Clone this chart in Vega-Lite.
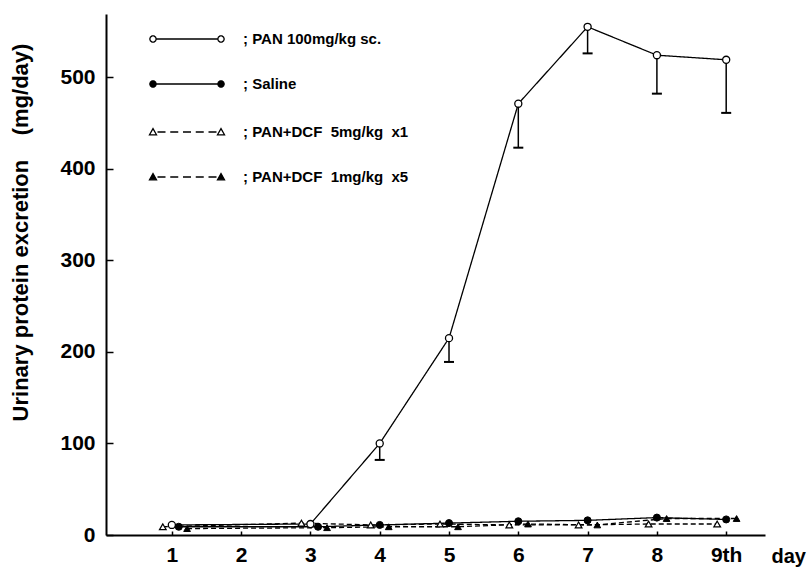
{
  "$schema": "https://vega.github.io/schema/vega-lite/v6.json",
  "width": 659,
  "height": 521,
  "autosize": "none",
  "padding": {"left": 106, "top": 14, "right": 43, "bottom": 32},
  "background": "white",
  "config": {
    "view": {"stroke": null},
    "font": "Liberation Sans"
  },
  "data": {
    "values": [
      {"series": "PAN 100mg/kg sc.", "day": 1, "value": 11},
      {"series": "PAN 100mg/kg sc.", "day": 3, "value": 12},
      {"series": "PAN 100mg/kg sc.", "day": 4, "value": 100, "low": 82},
      {"series": "PAN 100mg/kg sc.", "day": 5, "value": 215, "low": 189},
      {"series": "PAN 100mg/kg sc.", "day": 6, "value": 471, "low": 423},
      {"series": "PAN 100mg/kg sc.", "day": 7, "value": 555, "low": 526},
      {"series": "PAN 100mg/kg sc.", "day": 8, "value": 524, "low": 482},
      {"series": "PAN 100mg/kg sc.", "day": 9, "value": 519, "low": 461},
      {"series": "Saline", "day": 1.1, "value": 9},
      {"series": "Saline", "day": 3.11, "value": 9},
      {"series": "Saline", "day": 4, "value": 11},
      {"series": "Saline", "day": 5, "value": 13},
      {"series": "Saline", "day": 6, "value": 15},
      {"series": "Saline", "day": 7, "value": 16},
      {"series": "Saline", "day": 8, "value": 19},
      {"series": "Saline", "day": 9, "value": 17},
      {"series": "PAN+DCF\u00a0 5mg/kg\u00a0 x1", "day": 0.87, "value": 9},
      {"series": "PAN+DCF\u00a0 5mg/kg\u00a0 x1", "day": 2.87, "value": 13},
      {"series": "PAN+DCF\u00a0 5mg/kg\u00a0 x1", "day": 3.87, "value": 11},
      {"series": "PAN+DCF\u00a0 5mg/kg\u00a0 x1", "day": 4.87, "value": 12},
      {"series": "PAN+DCF\u00a0 5mg/kg\u00a0 x1", "day": 5.87, "value": 11},
      {"series": "PAN+DCF\u00a0 5mg/kg\u00a0 x1", "day": 6.87, "value": 11},
      {"series": "PAN+DCF\u00a0 5mg/kg\u00a0 x1", "day": 7.88, "value": 12},
      {"series": "PAN+DCF\u00a0 5mg/kg\u00a0 x1", "day": 8.87, "value": 12},
      {"series": "PAN+DCF\u00a0 1mg/kg\u00a0 x5", "day": 1.22, "value": 7},
      {"series": "PAN+DCF\u00a0 1mg/kg\u00a0 x5", "day": 3.24, "value": 8},
      {"series": "PAN+DCF\u00a0 1mg/kg\u00a0 x5", "day": 4.13, "value": 9},
      {"series": "PAN+DCF\u00a0 1mg/kg\u00a0 x5", "day": 5.13, "value": 9},
      {"series": "PAN+DCF\u00a0 1mg/kg\u00a0 x5", "day": 6.14, "value": 12},
      {"series": "PAN+DCF\u00a0 1mg/kg\u00a0 x5", "day": 7.14, "value": 11},
      {"series": "PAN+DCF\u00a0 1mg/kg\u00a0 x5", "day": 8.14, "value": 18},
      {"series": "PAN+DCF\u00a0 1mg/kg\u00a0 x5", "day": 9.15, "value": 18}
    ]
  },
  "encoding": {
    "x": {
      "field": "day", "type": "quantitative",
      "scale": {"domain": [0.05, 9.56], "nice": false, "zero": false},
      "axis": {
        "values": [1, 2, 3, 4, 5, 6, 7, 8, 9],
        "labelExpr": "datum.value == 9 ? '\u2007\u20079th' : datum.label",
        "title": "day",
        "titleX": 665, "titleY": 27,
        "titleAlign": "left", "titleBaseline": "alphabetic",
        "titleFontSize": 20, "titleFontWeight": "bold", "titleColor": "black",
        "labelFontSize": 21, "labelFontWeight": "bold", "labelColor": "black",
        "labelPadding": 13, "labelFlush": false, "labelOverlap": false,
        "domainColor": "black", "domainWidth": 2,
        "tickColor": "black", "tickWidth": 1.5, "tickSize": -4,
        "grid": false
      }
    },
    "y": {
      "field": "value", "type": "quantitative",
      "scale": {"domain": [0, 569], "nice": false},
      "axis": {
        "values": [0, 100, 200, 300, 400, 500],
        "title": "Urinary protein excretion\u00a0\u00a0\u00a0\u00a0(mg/day)",
        "titleX": -86, "titleY": 218, "titleAngle": -90,
        "titleAlign": "center", "titleBaseline": "middle",
        "titleFontSize": 22, "titleFontWeight": "bold", "titleColor": "black",
        "labelFontSize": 21, "labelFontWeight": "bold", "labelColor": "black",
        "labelPadding": 18, "labelFlush": false, "labelOverlap": false,
        "domainColor": "black", "domainWidth": 2,
        "tickColor": "black", "tickWidth": 1.5, "tickSize": -7,
        "grid": false
      }
    }
  },
  "resolve": {"scale": {"fill": "independent"}, "legend": {"fill": "independent"}},
  "layer": [
    {
      "mark": {"type": "line", "color": "black", "strokeWidth": 1.3},
      "encoding": {
        "detail": {"field": "series"},
        "strokeDash": {
          "field": "series", "type": "nominal",
          "scale": {
            "domain": ["PAN 100mg/kg sc.", "Saline", "PAN+DCF\u00a0 5mg/kg\u00a0 x1", "PAN+DCF\u00a0 1mg/kg\u00a0 x5"],
            "range": [[1, 0], [1, 0], [5, 3], [5, 3]]
          },
          "legend": null
        }
      }
    },
    {
      "transform": [{"filter": "isValid(datum.low)"}],
      "mark": {"type": "rule", "color": "black", "strokeWidth": 1.5},
      "encoding": {"y2": {"field": "low"}}
    },
    {
      "transform": [{"filter": "isValid(datum.low)"}],
      "mark": {"type": "point", "shape": "stroke", "size": 100, "stroke": "black", "strokeWidth": 2, "opacity": 1},
      "encoding": {"y": {"field": "low", "type": "quantitative"}}
    },
    {
      "transform": [{"filter": "datum.series == 'PAN 100mg/kg sc.'"}],
      "mark": {"type": "point", "shape": "circle", "size": 50, "filled": true, "fill": "white", "stroke": "black", "strokeWidth": 1.3, "opacity": 1}
    },
    {
      "transform": [{"filter": "datum.series == 'Saline'"}],
      "mark": {"type": "point", "shape": "circle", "size": 50, "filled": true, "fill": "black", "stroke": "black", "strokeWidth": 1, "opacity": 1}
    },
    {
      "transform": [{"filter": "indexof(datum.series, '5mg') >= 0"}],
      "mark": {"type": "point", "shape": "triangle-up", "size": 45, "filled": true, "fill": "white", "stroke": "black", "strokeWidth": 1.2, "opacity": 1}
    },
    {
      "transform": [{"filter": "indexof(datum.series, '1mg') >= 0"}],
      "mark": {"type": "point", "shape": "triangle-up", "size": 45, "filled": true, "fill": "black", "stroke": "black", "strokeWidth": 1, "opacity": 1}
    },
    {
      "transform": [{"filter": "indexof(datum.series, 'DCF') < 0"}],
      "mark": {"type": "point", "size": 400, "stroke": "black", "strokeWidth": 1.3, "opacity": 0},
      "encoding": {
        "fill": {
          "field": "series", "type": "nominal",
          "scale": {"domain": ["PAN 100mg/kg sc.", "Saline"], "range": ["white", "black"]},
          "legend": {
            "orient": "none", "legendX": 70, "legendY": 14, "title": null,
            "direction": "vertical", "padding": 0,
            "symbolType": "M-3.08,0L3.08,0M-3.08,0L-3.141,0.188L-3.301,0.304L-3.499,0.304L-3.659,0.188L-3.72,0L-3.659,-0.188L-3.499,-0.304L-3.301,-0.304L-3.141,-0.188ZM3.72,0L3.659,0.188L3.499,0.304L3.301,0.304L3.141,0.188L3.08,0L3.141,-0.188L3.301,-0.304L3.499,-0.304L3.659,-0.188Z",
            "symbolSize": 400, "symbolStrokeColor": "black", "symbolStrokeWidth": 1.3, "symbolOpacity": 1,
            "labelExpr": "'; ' + datum.label",
            "labelFontSize": 15, "labelFontWeight": "bold", "labelColor": "black",
            "labelOffset": 45, "rowPadding": 26, "labelLimit": 400
          }
        }
      }
    },
    {
      "transform": [{"filter": "indexof(datum.series, 'DCF') >= 0"}],
      "mark": {"type": "point", "size": 400, "stroke": "black", "strokeWidth": 1.3, "opacity": 0},
      "encoding": {
        "fill": {
          "field": "series", "type": "nominal",
          "scale": {"domain": ["PAN+DCF\u00a0 5mg/kg\u00a0 x1", "PAN+DCF\u00a0 1mg/kg\u00a0 x5"], "range": ["white", "black"]},
          "legend": {
            "orient": "none", "legendX": 70, "legendY": 107, "title": null,
            "direction": "vertical", "padding": 0,
            "symbolType": "M-2.95,0L-2.15,0M-1.675,0L-0.875,0M-0.4,0L0.4,0M0.875,0L1.675,0M2.15,0L2.95,0M-3.75,0.28L-3.05,0.28L-3.4,-0.34ZM3.05,0.28L3.75,0.28L3.4,-0.34Z",
            "symbolSize": 400, "symbolStrokeColor": "black", "symbolStrokeWidth": 1.3, "symbolOpacity": 1,
            "labelExpr": "'; ' + datum.label",
            "labelFontSize": 15, "labelFontWeight": "bold", "labelColor": "black",
            "labelOffset": 45, "rowPadding": 26, "labelLimit": 400
          }
        }
      }
    }
  ]
}
